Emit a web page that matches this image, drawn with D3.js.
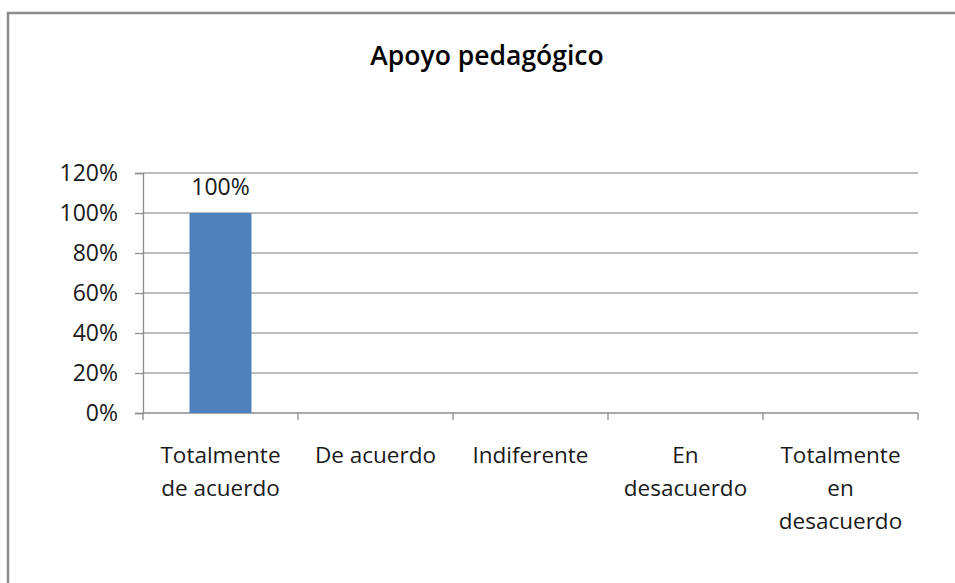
<!DOCTYPE html>
<meta charset="utf-8">
<script src="https://d3js.org/d3.v7.min.js"></script>
<style>
  html, body { margin: 0; padding: 0; background: #fff; overflow: hidden; }
  svg { display: block; }
  text { font-family: "Open Sans", "DejaVu Sans", sans-serif; fill: #1a1a1a; }
</style>
<div id="my_dataviz"></div>
<script>

// data
var categories = ["Totalmente de acuerdo", "De acuerdo", "Indiferente", "En desacuerdo", "Totalmente en desacuerdo"];
var labelLines = [["Totalmente", "de acuerdo"], ["De acuerdo"], ["Indiferente"], ["En", "desacuerdo"], ["Totalmente", "en", "desacuerdo"]];
var values = [1.0, null, null, null, null];
var yTicks = [0, 0.2, 0.4, 0.6, 0.8, 1.0, 1.2];
var title = "Apoyo pedagógico";

var W = 955, H = 583;
var margin = {top: 173, right: 37, bottom: 170, left: 143},
    width = W - margin.left - margin.right,
    height = H - margin.top - margin.bottom;

var root = d3.select("#my_dataviz")
  .append("svg")
    .attr("width", W)
    .attr("height", H);

// outer chart frame: only left and top edges fall inside the picture
root.append("path")
  .attr("d", d3.line()([[8, H + 5], [8, 13], [W + 5, 13]]))
  .style("fill", "none")
  .style("stroke", "#8c8c8c")
  .style("stroke-width", 2.5);

root.append("text")
  .attr("x", 487).attr("y", 65)
  .attr("text-anchor", "middle")
  .style("font-size", "26.5px")
  .style("font-weight", "600")
  .style("fill", "#000")
  .text(title);

var svg = root.append("g")
  .attr("transform", "translate(" + margin.left + "," + margin.top + ")");

var x = d3.scaleBand()
  .domain(categories)
  .range([0, width])
  .paddingInner(0.6)
  .paddingOuter(0.3);

var xs = d3.scaleBand().domain(categories).range([0, width]);

var y = d3.scaleLinear()
  .domain([0, 1.2])
  .range([height, 0]);

// gridlines
svg.append("g")
  .selectAll("line")
  .data(yTicks.slice(1))
  .enter()
  .append("line")
    .attr("x1", 0).attr("x2", width)
    .attr("y1", function(d) { return y(d); })
    .attr("y2", function(d) { return y(d); })
    .style("stroke", "#a6a6a6")
    .style("stroke-width", 1.3);

// y axis
var yAxis = svg.append("g")
  .call(d3.axisLeft(y).tickValues(yTicks).tickFormat(d3.format(".0%")).tickSize(8).tickPadding(17));
yAxis.select(".domain").style("stroke", "#8c8c8c").style("stroke-width", 1.3);
yAxis.selectAll(".tick line").style("stroke", "#8c8c8c").style("stroke-width", 1.3);
yAxis.selectAll("text")
  .style("font-size", "23px")
  .style("font-family", "'Open Sans', sans-serif")
  .style("fill", "#1a1a1a");

// x axis baseline with ticks between categories
var xg = svg.append("g").attr("transform", "translate(0," + height + ")");
xg.append("line")
  .attr("x1", 0).attr("x2", width)
  .style("stroke", "#8c8c8c").style("stroke-width", 1.3);
xg.selectAll("line.tk")
  .data(categories.concat(["end"]))
  .enter()
  .append("line")
    .attr("class", "tk")
    .attr("x1", function(d, i) { return i < categories.length ? xs(d) : width; })
    .attr("x2", function(d, i) { return i < categories.length ? xs(d) : width; })
    .attr("y1", 0).attr("y2", 7)
    .style("stroke", "#8c8c8c").style("stroke-width", 1.3);

// category labels
var lab = xg.selectAll("text.cat")
  .data(categories)
  .enter()
  .append("text")
    .attr("class", "cat")
    .attr("text-anchor", "middle")
    .attr("x", function(d) { return xs(d) + xs.bandwidth() / 2; })
    .attr("y", 50)
    .style("font-size", "22.5px");
lab.selectAll("tspan")
  .data(function(d, i) { return labelLines[i]; })
  .enter()
  .append("tspan")
    .attr("x", function() { var p = d3.select(this.parentNode); return p.attr("x"); })
    .attr("dy", function(d, i) { return i === 0 ? 0 : 33; })
    .text(function(d) { return d; });

// bars
var data = categories.map(function(c, i) { return {cat: c, v: values[i]}; })
  .filter(function(d) { return d.v != null; });

svg.selectAll("rect.bar")
  .data(data)
  .enter()
  .append("rect")
    .attr("class", "bar")
    .attr("x", function(d) { return x(d.cat); })
    .attr("width", x.bandwidth())
    .attr("y", function(d) { return y(d.v); })
    .attr("height", function(d) { return height - y(d.v); })
    .style("fill", "#4f81bd");

// value labels
svg.selectAll("text.val")
  .data(data)
  .enter()
  .append("text")
    .attr("class", "val")
    .attr("text-anchor", "middle")
    .attr("x", function(d) { return x(d.cat) + x.bandwidth() / 2; })
    .attr("y", function(d) { return y(d.v) - 18; })
    .style("font-size", "23px")
    .text(function(d) { return d3.format(".0%")(d.v); });

</script>
